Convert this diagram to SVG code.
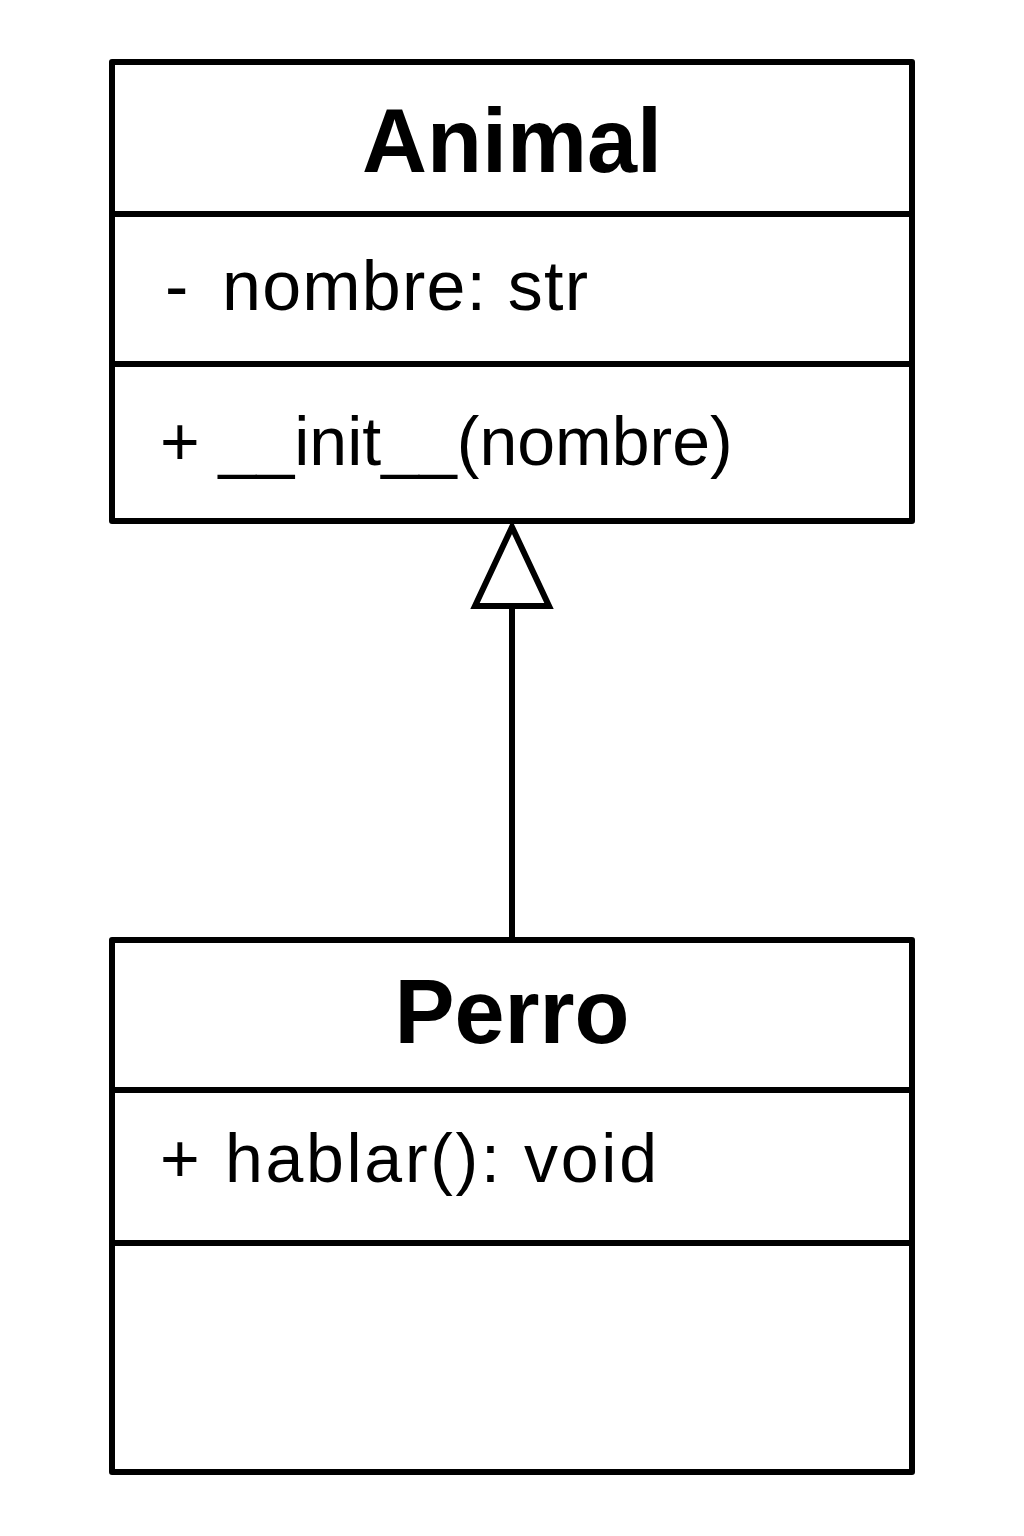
<svg xmlns="http://www.w3.org/2000/svg" width="1024" height="1536" viewBox="0 0 1024 1536">
<style>
.box{fill:#fff;stroke:#000;stroke-width:6;stroke-linejoin:round}
.div{stroke:#000;stroke-width:6}
.title{font-family:"Liberation Sans",Arial,sans-serif;font-weight:bold;font-size:90px;text-anchor:middle;fill:#000}
.mem{font-family:"Liberation Sans",Arial,sans-serif;font-size:68px;fill:#000}
.conn{stroke:#000;stroke-width:6;fill:none}
</style>
<rect width="1024" height="1536" fill="#fff"/>
<g id="connectors">
<line class="conn" x1="512" y1="608" x2="512" y2="940"/>
<polygon class="conn" fill="#fff" points="512,527 549,606 475,606" stroke-linejoin="miter"/>
</g>
<g id="Animal">
<rect class="box" x="112" y="62" width="800" height="459"/>
<line class="div" x1="112" y1="214" x2="912" y2="214"/>
<line class="div" x1="112" y1="364" x2="912" y2="364"/>
<text class="title" x="512" y="172">Animal</text>
<text class="mem" y="310" style="font-size:70px;letter-spacing:1.2px"><tspan x="165">-</tspan><tspan x="222">nombre: str</tspan></text>
<text class="mem" x="160" y="465">+ __init__(nombre)</text>
</g>
<g id="Perro">
<rect class="box" x="112" y="940" width="800" height="532"/>
<line class="div" x1="112" y1="1090" x2="912" y2="1090"/>
<line class="div" x1="112" y1="1243" x2="912" y2="1243"/>
<text class="title" x="512" y="1043">Perro</text>
<text class="mem" y="1182"><tspan x="160">+</tspan><tspan x="225" style="letter-spacing:2.7px">hablar(): void</tspan></text>
</g>
</svg>
